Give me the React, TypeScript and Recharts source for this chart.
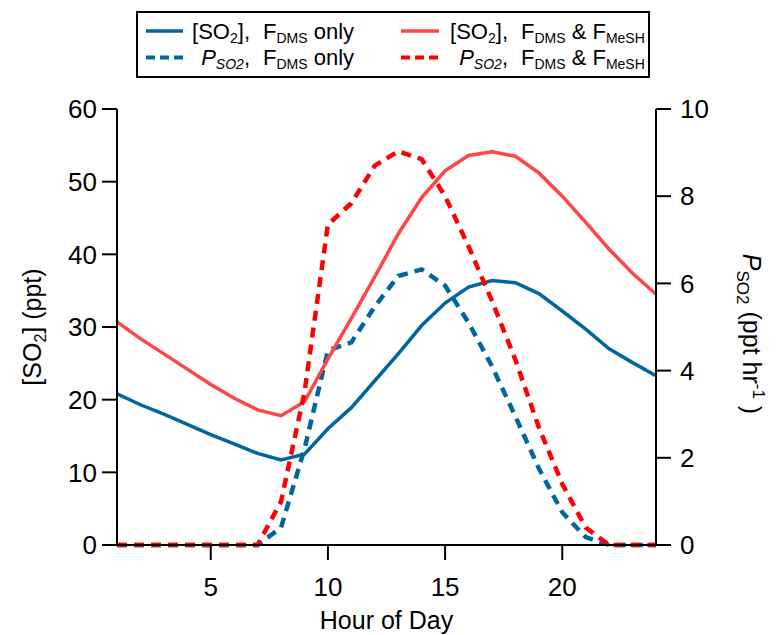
import { ComposedChart, Line, XAxis, YAxis, Label } from 'recharts';

// hour of day (x)
const hours = [1, 2, 3, 4, 5, 6, 7, 8, 9, 10, 11, 12, 13, 14, 15, 16, 17, 18, 19, 20, 21, 22, 23, 24];

// [SO2] (ppt), left axis
const so2Dms = [20.8, 19.3, 18.0, 16.6, 15.2, 13.9, 12.6, 11.7, 12.5, 16.0, 18.9, 22.6, 26.3, 30.2, 33.3, 35.5, 36.4, 36.1, 34.6, 32.2, 29.7, 27.0, 25.1, 23.3];
const so2Both = [30.7, 28.4, 26.3, 24.2, 22.1, 20.2, 18.6, 17.8, 19.7, 25.6, 31.2, 36.9, 42.8, 47.8, 51.5, 53.6, 54.1, 53.5, 51.2, 48.0, 44.4, 40.7, 37.4, 34.5];

// P_SO2 (ppt hr-1), right axis
const pDms = [0, 0, 0, 0, 0, 0, 0, 0.4, 2.2, 4.46, 4.65, 5.47, 6.17, 6.32, 5.95, 5.1, 4.1, 2.95, 1.76, 0.75, 0.18, 0, 0, 0];
const pBoth = [0, 0, 0, 0, 0, 0, 0, 1.0, 3.5, 7.35, 7.84, 8.7, 9.03, 8.85, 8.0, 6.85, 5.6, 4.25, 2.7, 1.4, 0.4, 0, 0, 0];

const xTicks = [5, 10, 15, 20];
const leftTicks = [0, 10, 20, 30, 40, 50, 60];
const rightTicks = [0, 2, 4, 6, 8, 10];

const BLUE = '#00669e';
const RED_SOLID = '#ff4545';
const RED_DASH = '#ff0000';
const FONT = '"Liberation Sans", Arial, Helvetica, sans-serif';

const data = hours.map((hour, i) => ({
  hour,
  so2Dms: so2Dms[i],
  so2Both: so2Both[i],
  pDms: pDms[i],
  pBoth: pBoth[i],
}));

const axisStyle = { stroke: '#000', strokeWidth: 2 };

function XTitle({ viewBox }: any) {
  const { x, y, width } = viewBox;
  return (
    <text x={x + width / 2} y={y + 84} textAnchor="middle" fontSize={25} fill="#000" fontFamily={FONT}>
      Hour of Day
    </text>
  );
}

function LeftTitle({ viewBox }: any) {
  const { x, y, height } = viewBox;
  const cx = x - 16;
  const cy = y + height / 2;
  return (
    <text x={cx} y={cy} transform={`rotate(-90 ${cx} ${cy})`} textAnchor="middle" fontSize={25} fill="#000" fontFamily={FONT}>
      [SO<tspan dy={5} fontSize={16}>2</tspan><tspan dy={-5}>] (ppt)</tspan>
    </text>
  );
}

function RightTitle({ viewBox }: any) {
  const { x, y, height } = viewBox;
  const cx = x + 87;
  const cy = y + height / 2 + 7;
  return (
    <text x={cx} y={cy} transform={`rotate(90 ${cx} ${cy})`} textAnchor="middle" fontSize={25} fill="#000" fontFamily={FONT}>
      <tspan fontStyle="italic">P</tspan>
      <tspan dy={6} fontSize={17}>SO2</tspan>
      <tspan dy={-6}> (ppt hr</tspan>
      <tspan dy={-10} fontSize={17}>-1</tspan>
      <tspan dy={10}> )</tspan>
    </text>
  );
}

function LegendBox() {
  const rows = [38.5, 65];
  return (
    <svg width={777} height={90} style={{ position: 'absolute', left: 0, top: 0 }} fontFamily={FONT} fontSize={22}>
      <rect x={137} y={12} width={512} height={65} fill="#fff" stroke="#000" strokeWidth={2} />
      {/* left column */}
      <line x1={146} x2={183} y1={31} y2={31} stroke={BLUE} strokeWidth={3.5} />
      <line x1={146} x2={183} y1={57.5} y2={57.5} stroke={BLUE} strokeWidth={4} strokeDasharray="9 5" />
      <text x={250} y={rows[0]} textAnchor="end">
        [SO<tspan dy={4} fontSize={14}>2</tspan><tspan dy={-4}>],</tspan>
      </text>
      <text x={263} y={rows[0]}>
        F<tspan dy={4} fontSize={14}>DMS</tspan><tspan dy={-4}> only</tspan>
      </text>
      <text x={250} y={rows[1]} textAnchor="end">
        <tspan fontStyle="italic">P</tspan><tspan dy={4} fontSize={14} fontStyle="italic">SO2</tspan><tspan dy={-4}>,</tspan>
      </text>
      <text x={263} y={rows[1]}>
        F<tspan dy={4} fontSize={14}>DMS</tspan><tspan dy={-4}> only</tspan>
      </text>
      {/* right column */}
      <line x1={401} x2={439} y1={31} y2={31} stroke={RED_SOLID} strokeWidth={3.5} />
      <line x1={401} x2={439} y1={57.5} y2={57.5} stroke={RED_DASH} strokeWidth={4} strokeDasharray="9 5" />
      <text x={508} y={rows[0]} textAnchor="end">
        [SO<tspan dy={4} fontSize={14}>2</tspan><tspan dy={-4}>],</tspan>
      </text>
      <text x={521} y={rows[0]}>
        F<tspan dy={4} fontSize={14}>DMS</tspan><tspan dy={-4}> &amp; F</tspan><tspan dy={4} fontSize={14}>MeSH</tspan>
      </text>
      <text x={508} y={rows[1]} textAnchor="end">
        <tspan fontStyle="italic">P</tspan><tspan dy={4} fontSize={14} fontStyle="italic">SO2</tspan><tspan dy={-4}>,</tspan>
      </text>
      <text x={521} y={rows[1]}>
        F<tspan dy={4} fontSize={14}>DMS</tspan><tspan dy={-4}> &amp; F</tspan><tspan dy={4} fontSize={14}>MeSH</tspan>
      </text>
    </svg>
  );
}

export default function App() {
  return (
    <div style={{ position: 'absolute', left: 0, top: 0, width: 777, height: 635, background: '#fff', fontFamily: FONT }}>
      <ComposedChart width={777} height={635} data={data} margin={{ top: 109, right: 61, bottom: 50, left: 57 }}>
        <XAxis
          dataKey="hour"
          type="number"
          domain={[1, 24]}
          ticks={xTicks}
          allowDataOverflow
          height={40}
          axisLine={axisStyle}
          tickLine={axisStyle}
          tickSize={15}
          tickMargin={18}
          tick={{ fill: '#000', fontSize: 26, fontFamily: FONT }}
          label={<Label content={XTitle} />}
        />
        <YAxis
          yAxisId="left"
          domain={[0, 60]}
          ticks={leftTicks}
          width={60}
          axisLine={axisStyle}
          tickLine={axisStyle}
          tickSize={15}
          tickMargin={5}
          tick={{ fill: '#000', fontSize: 26, fontFamily: FONT }}
          label={<Label content={LeftTitle} />}
        />
        <YAxis
          yAxisId="right"
          orientation="right"
          domain={[0, 10]}
          ticks={rightTicks}
          width={60}
          axisLine={axisStyle}
          tickLine={axisStyle}
          tickSize={15}
          tickMargin={9}
          tick={{ fill: '#000', fontSize: 26, fontFamily: FONT }}
          label={<Label content={RightTitle} />}
        />
        <Line yAxisId="left" type="linear" dataKey="so2Dms" stroke={BLUE} strokeWidth={3.5} dot={false} isAnimationActive={false} />
        <Line yAxisId="right" type="linear" dataKey="pDms" stroke={BLUE} strokeWidth={4.5} strokeDasharray="10 7" dot={false} isAnimationActive={false} />
        <Line yAxisId="left" type="linear" dataKey="so2Both" stroke={RED_SOLID} strokeWidth={3.5} dot={false} isAnimationActive={false} />
        <Line yAxisId="right" type="linear" dataKey="pBoth" stroke={RED_DASH} strokeWidth={4.5} strokeDasharray="10 7" dot={false} isAnimationActive={false} />
      </ComposedChart>
      <LegendBox />
    </div>
  );
}
